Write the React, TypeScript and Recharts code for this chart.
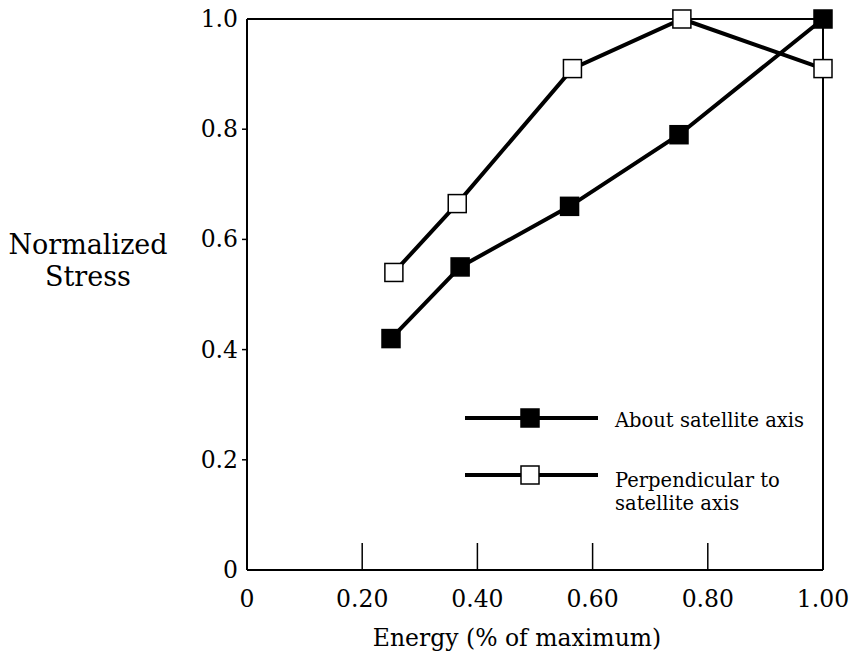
import { ScatterChart, Scatter, XAxis, YAxis, ReferenceLine, Legend, Label } from "recharts";

const ENERGY_ABOUT = [0.25, 0.37, 0.56, 0.75, 1.0];
const STRESS_ABOUT = [0.42, 0.55, 0.66, 0.79, 1.0];
const ENERGY_PERP = [0.255, 0.365, 0.565, 0.755, 1.0];
const STRESS_PERP = [0.54, 0.665, 0.91, 1.0, 0.91];

const X_TICKS = [0, 0.2, 0.4, 0.6, 0.8, 1.0];
const X_TICK_LABELS = ["0", "0.20", "0.40", "0.60", "0.80", "1.00"];
const Y_TICKS = [0, 0.2, 0.4, 0.6, 0.8, 1.0];
const Y_TICK_LABELS = ["0", "0.2", "0.4", "0.6", "0.8", "1.0"];

const SERIES_NAMES = ["About satellite axis", "Perpendicular to satellite axis"];

const aboutData = ENERGY_ABOUT.map((e, i) => ({ energy: e, stress: STRESS_ABOUT[i] }));
const perpData = ENERGY_PERP.map((e, i) => ({ energy: e, stress: STRESS_PERP[i] }));

const FONT = "'DejaVu Serif', serif";
const SQ = 18;

function square(filled: boolean) {
	return (props: any) => {
		const { cx, cy } = props;
		if (cx == null || cy == null) return <g />;
		return (
			<rect
				x={cx - SQ / 2}
				y={cy - SQ / 2}
				width={SQ}
				height={SQ}
				fill={filled ? "#000" : "#fff"}
				stroke="#000"
				strokeWidth={1.5}
			/>
		);
	};
}

function XTick({ x, y, payload, index }: any) {
	const v = payload.value;
	const inner = v > 0 && v < 1;
	return (
		<g>
			{inner ? <line x1={x} x2={x} y1={y} y2={y - 27} stroke="#000" strokeWidth={1.5} /> : null}
			<text x={x} y={y + 37} textAnchor="middle" fontFamily={FONT} fontSize={23.5} fill="#000">
				{X_TICK_LABELS[index]}
			</text>
		</g>
	);
}

function YTick({ x, y, payload, index }: any) {
	const v = payload.value;
	const inner = v > 0 && v < 1;
	return (
		<g>
			{inner ? <line x1={x - 5} x2={x} y1={y} y2={y} stroke="#000" strokeWidth={1.5} /> : null}
			<text x={x - 9} y={y} textAnchor="end" dominantBaseline="central" fontFamily={FONT} fontSize={23.5} fill="#000">
				{Y_TICK_LABELS[index]}
			</text>
		</g>
	);
}

function LegendBox() {
	const row = (filled: boolean, cy: number) => (
		<g>
			<line x1={0} x2={133} y1={cy} y2={cy} stroke="#000" strokeWidth={4} />
			<rect x={65 - SQ / 2} y={cy - SQ / 2} width={SQ} height={SQ} fill={filled ? "#000" : "#fff"} stroke="#000" strokeWidth={1.5} />
		</g>
	);
	return (
		<svg width={360} height={130} style={{ display: "block" }}>
			{row(true, 18)}
			{row(false, 75)}
			<text fontFamily={FONT} fontSize={19.5} fill="#000">
				<tspan x={150} y={27}>{SERIES_NAMES[0]}</tspan>
				<tspan x={150} y={87}>Perpendicular to</tspan>
				<tspan x={150} y={110}>satellite axis</tspan>
			</text>
		</svg>
	);
}

export default function App() {
	return (
		<div style={{ position: "absolute", left: 0, top: 0, width: 856, height: 659, background: "#fff" }}>
			<ScatterChart width={856} height={659} margin={{ top: 19, right: 33, bottom: 0, left: 0 }}>
				<XAxis
					type="number"
					dataKey="energy"
					domain={[0, 1]}
					ticks={X_TICKS}
					interval={0}
					height={89}
					tickSize={0}
					tickMargin={0}
					tickLine={false}
					tick={<XTick />}
					axisLine={{ stroke: "#000", strokeWidth: 2 }}
				>
					<Label
						content={() => (
							<text x={517} y={646} textAnchor="middle" fontFamily={FONT} fontSize={23.5} fill="#000">
								Energy (% of maximum)
							</text>
						)}
					/>
				</XAxis>
				<YAxis
					type="number"
					dataKey="stress"
					domain={[0, 1]}
					ticks={Y_TICKS}
					interval={0}
					width={247}
					tickSize={0}
					tickMargin={0}
					tickLine={false}
					tick={<YTick />}
					axisLine={{ stroke: "#000", strokeWidth: 2 }}
				>
					<Label
						content={() => (
							<text textAnchor="middle" fontFamily={FONT} fontSize={27} fill="#000">
								<tspan x={88} y={254}>Normalized</tspan>
								<tspan x={88} y={286}>Stress</tspan>
							</text>
						)}
					/>
				</YAxis>
				<ReferenceLine y={1} stroke="#000" strokeWidth={2} ifOverflow="visible" />
				<ReferenceLine x={1} stroke="#000" strokeWidth={2} ifOverflow="visible" />
				<Scatter
					name={SERIES_NAMES[0]}
					data={aboutData}
					line={{ stroke: "#000", strokeWidth: 4 }}
					shape={square(true)}
					isAnimationActive={false}
				/>
				<Scatter
					name={SERIES_NAMES[1]}
					data={perpData}
					line={{ stroke: "#000", strokeWidth: 4 }}
					shape={square(false)}
					isAnimationActive={false}
				/>
				<Legend
					layout="horizontal"
					verticalAlign="middle"
					align="center"
					content={() => <LegendBox />}
					wrapperStyle={{ position: "absolute", left: 465, top: 400, width: 360, height: 130 }}
				/>
			</ScatterChart>
		</div>
	);
}
